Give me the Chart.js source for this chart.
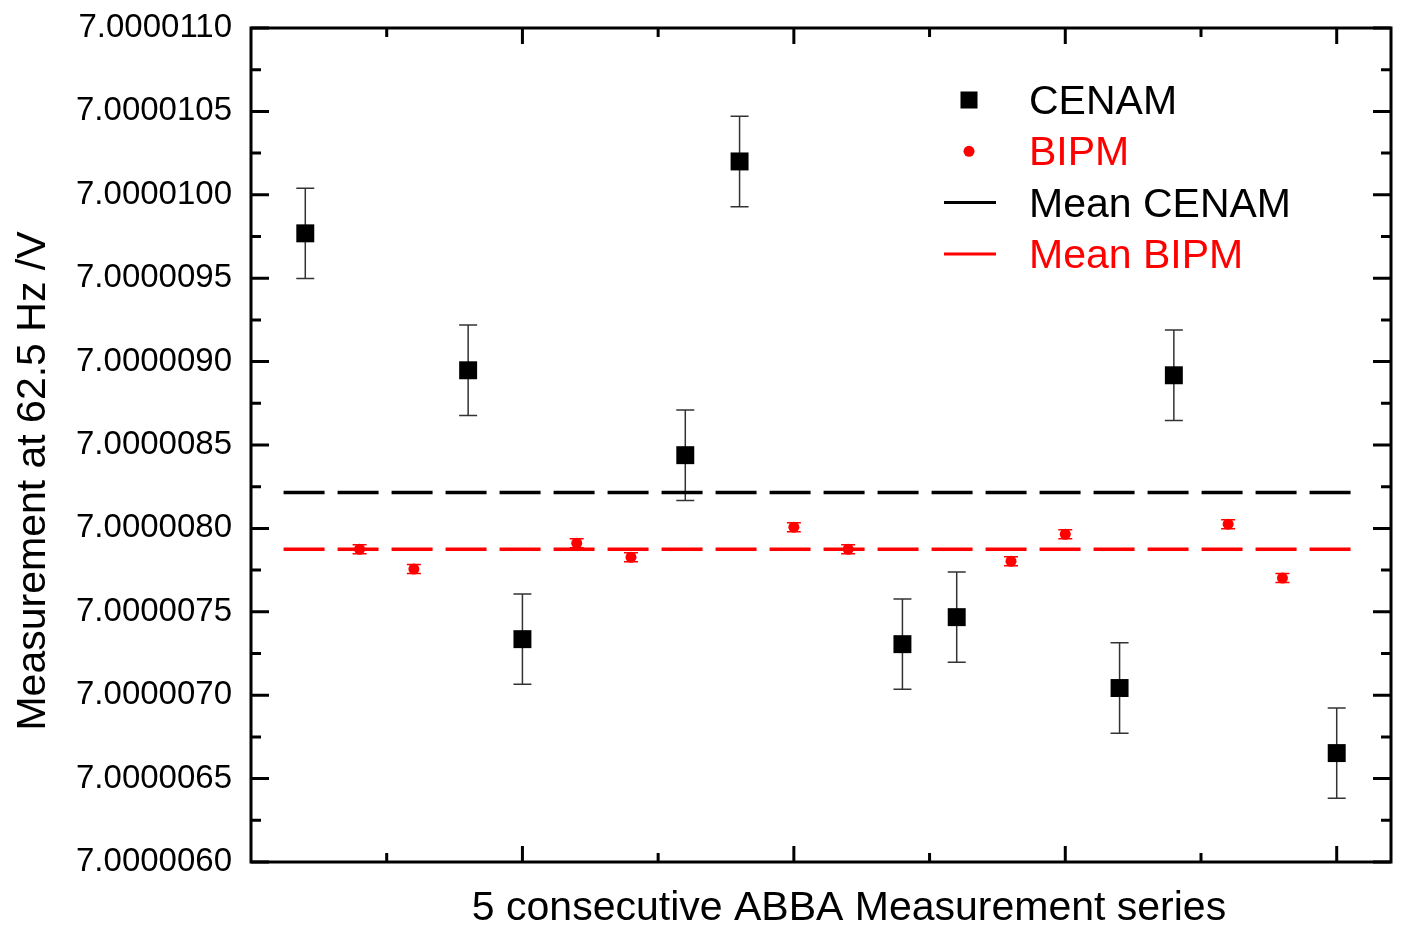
<!DOCTYPE html>
<html>
<head>
<meta charset="utf-8">
<script src="https://cdn.jsdelivr.net/npm/chart.js@4/dist/chart.umd.min.js"></script>
<style>
html,body{margin:0;padding:0;background:#fff}
#wrap{width:1405px;height:929px}
</style>
</head>
<body>
<div id="wrap"><canvas id="chart" width="1405" height="929"></canvas></div>
<script>
// CENAM measurements (series index, value, uncertainty)
const cenamX = [1, 4, 5, 8, 9, 12, 13, 16, 17, 20];
const cenamY = [7.000009769, 7.000008948, 7.000007336, 7.000008439, 7.000010200,
                7.000007306, 7.000007468, 7.000007043, 7.000008918, 7.000006653];
const cenamErr = [2.71e-7, 2.71e-7, 2.71e-7, 2.71e-7, 2.71e-7, 2.71e-7, 2.71e-7, 2.71e-7, 2.71e-7, 2.71e-7];

// BIPM measurements
const bipmX = [2, 3, 6, 7, 10, 11, 14, 15, 18, 19];
const bipmY = [7.000007875, 7.000007756, 7.000007911, 7.000007827, 7.000008007,
               7.000007875, 7.000007803, 7.000007965, 7.000008025, 7.000007702];
const bipmErr = [2.7e-8, 2.7e-8, 2.7e-8, 2.7e-8, 2.7e-8, 2.7e-8, 2.7e-8, 2.7e-8, 2.7e-8, 2.7e-8];

// mean lines
const meanX = [0.6, 20.4];
const meanCenam = 7.000008215;
const meanBipm = 7.000007875;

// axes
const yMin = 7.0000060, yMax = 7.0000110, yStep = 0.0000005;
const xMin = 0, xMax = 21, xStep = 2.5;
const xTitle = '5 consecutive ABBA Measurement series';
const yTitle = 'Measurement at 62.5 Hz /V';

const FONT = '"Liberation Sans", Arial, sans-serif';
const RED = '#ff0000';

const pts = (xs, ys) => xs.map((x, i) => ({x, y: ys[i]}));

const extras = {
  id: 'extras',
  beforeDatasetsDraw(chart) {
    const ctx = chart.ctx, ys = chart.scales.y;
    chart.data.datasets.forEach((ds, di) => {
      if (!ds.errors) return;
      const meta = chart.getDatasetMeta(di);
      ctx.save();
      ctx.strokeStyle = ds.errColor;
      ctx.lineWidth = 1.5;
      meta.data.forEach((p, i) => {
        const v = ds.data[i].y, e = ds.errors[i];
        const t = ys.getPixelForValue(v + e), b = ys.getPixelForValue(v - e);
        const w = ds.capHalf;
        ctx.beginPath();
        ctx.moveTo(p.x, t); ctx.lineTo(p.x, b);
        ctx.moveTo(p.x - w, t); ctx.lineTo(p.x + w, t);
        ctx.moveTo(p.x - w, b); ctx.lineTo(p.x + w, b);
        ctx.stroke();
      });
      ctx.restore();
    });
  },
  afterDraw(chart) {
    const ctx = chart.ctx, a = chart.chartArea;
    const xs = chart.scales.x, ys = chart.scales.y;
    ctx.save();
    ctx.strokeStyle = '#000';
    ctx.lineWidth = 3;
    ctx.strokeRect(a.left, a.top, a.right - a.left, a.bottom - a.top);

    // x ticks (bottom and top, inward)
    ctx.beginPath();
    for (let v = xMin + xStep; v < xMax; v += xStep) {
      const px = xs.getPixelForValue(v);
      const len = (Math.round(v * 10) % 50 === 0) ? 16 : 9;
      ctx.moveTo(px, a.bottom); ctx.lineTo(px, a.bottom - len);
      ctx.moveTo(px, a.top); ctx.lineTo(px, a.top + len);
    }
    // y ticks (left and right, inward), major + minor
    for (let k = 0; k <= Math.round((yMax - yMin) / yStep); k++) {
      const v = yMin + k * yStep;
      const py = ys.getPixelForValue(v);
      ctx.moveTo(a.left, py); ctx.lineTo(a.left + 18, py);
      ctx.moveTo(a.right, py); ctx.lineTo(a.right - 18, py);
      if (v + yStep / 2 < yMax) {
        const pm = ys.getPixelForValue(v + yStep / 2);
        ctx.moveTo(a.left, pm); ctx.lineTo(a.left + 10, pm);
        ctx.moveTo(a.right, pm); ctx.lineTo(a.right - 10, pm);
      }
    }
    ctx.stroke();

    // axis titles
    ctx.fillStyle = '#000';
    ctx.font = '41px ' + FONT;
    ctx.textAlign = 'center';
    ctx.textBaseline = 'alphabetic';
    ctx.fillText(xTitle, 849, 920);
    ctx.save();
    ctx.translate(45, 481);
    ctx.rotate(-Math.PI / 2);
    ctx.fillText(yTitle, 0, 0);
    ctx.restore();

    // legend
    const mx = 969, tx = 1029, top = 100, gap = 51.3;
    ctx.font = '41px ' + FONT;
    ctx.textAlign = 'left';
    chart.data.datasets.forEach((ds, i) => {
      const y = top + i * gap;
      ctx.fillStyle = ds.borderColor;
      ctx.strokeStyle = ds.borderColor;
      if (ds.showLine) {
        ctx.lineWidth = 3;
        ctx.beginPath(); ctx.moveTo(944, y); ctx.lineTo(996, y); ctx.stroke();
      } else if (ds.pointStyle === 'rect') {
        ctx.fillRect(mx - 8.5, y - 8.5, 17, 17);
      } else {
        ctx.beginPath(); ctx.arc(mx, y, 5.5, 0, Math.PI * 2); ctx.fill();
      }
      ctx.fillStyle = ds.borderColor;
      ctx.fillText(ds.label, tx, y + 14);
    });
    ctx.restore();
  }
};

new Chart(document.getElementById('chart'), {
  type: 'scatter',
  data: {
    datasets: [
      {label: 'CENAM', data: pts(cenamX, cenamY), errors: cenamErr, errColor: '#333', capHalf: 9,
       pointStyle: 'rect', pointRadius: 12.7, backgroundColor: '#000', borderColor: '#000', borderWidth: 0},
      {label: 'BIPM', data: pts(bipmX, bipmY), errors: bipmErr, errColor: RED, capHalf: 7,
       pointStyle: 'circle', pointRadius: 5.5, backgroundColor: RED, borderColor: RED, borderWidth: 0},
      {label: 'Mean CENAM', data: pts(meanX, [meanCenam, meanCenam]), showLine: true,
       borderColor: '#000', borderWidth: 3.5, borderDash: [41, 13], pointRadius: 0},
      {label: 'Mean BIPM', data: pts(meanX, [meanBipm, meanBipm]), showLine: true,
       borderColor: RED, borderWidth: 3.5, borderDash: [41, 13], pointRadius: 0}
    ]
  },
  options: {
    responsive: false,
    animation: false,
    devicePixelRatio: 1,
    layout: {padding: {top: 28, right: 14, left: 0, bottom: 0}},
    plugins: {legend: {display: false}, tooltip: {enabled: false}},
    scales: {
      x: {
        type: 'linear', min: xMin, max: xMax,
        ticks: {display: false},
        grid: {display: false, drawTicks: false},
        border: {display: false},
        afterFit(s) { s.height = 67; s.paddingLeft = 0; s.paddingRight = 0; }
      },
      y: {
        type: 'linear', min: yMin, max: yMax,
        ticks: {stepSize: yStep, autoSkip: false, padding: 19, color: '#000',
                font: {family: FONT, size: 33},
                callback: v => Number(v).toFixed(7)},
        grid: {display: false, drawTicks: false},
        border: {display: false},
        afterFit(s) { s.width = 251; s.paddingTop = 0; s.paddingBottom = 0; }
      }
    }
  },
  plugins: [extras]
});
</script>
</body>
</html>
